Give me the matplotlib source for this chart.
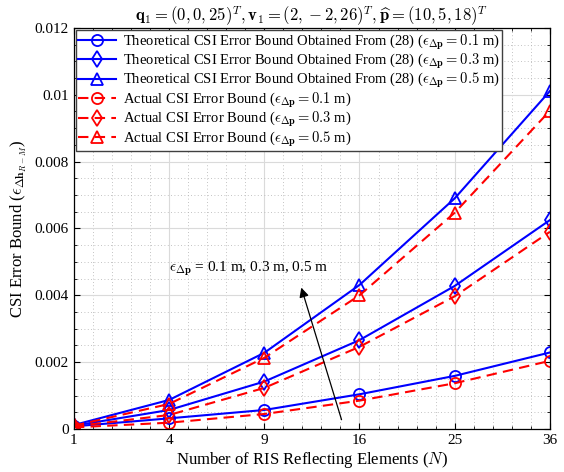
import numpy as np
import matplotlib
matplotlib.use("Agg")
import matplotlib.pyplot as plt
from matplotlib.ticker import MultipleLocator, FuncFormatter

plt.rcParams['font.family'] = ['Liberation Serif', 'DejaVu Serif']
plt.rcParams['mathtext.fontset'] = 'cm'

# RIS element counts (x axis, equally spaced)
n_elements = [1, 4, 9, 16, 25, 36]

# theoretical bound from (28)
theory_01 = [0.00008, 0.00032, 0.00057, 0.00104, 0.00159, 0.00229]
theory_03 = [0.00010, 0.00057, 0.00142, 0.00266, 0.00428, 0.00625]
theory_05 = [0.00012, 0.00087, 0.00228, 0.00431, 0.00690, 0.01011]

# actual bound
actual_01 = [0.00005, 0.00019, 0.00045, 0.00085, 0.00137, 0.00204]
actual_03 = [0.00008, 0.00042, 0.00123, 0.00246, 0.00397, 0.00590]
actual_05 = [0.00010, 0.00075, 0.00213, 0.00400, 0.00647, 0.00952]

eps_labels = ['0.1', '0.3', '0.5']
markers = ['o', 'd', '^']

fig = plt.figure(figsize=(5.64, 4.72), dpi=100)
ax = fig.add_axes([0.131, 0.091, 0.844, 0.85])

x = np.arange(len(n_elements))

for vals, m, e in zip([theory_01, theory_03, theory_05], markers, eps_labels):
    ax.plot(x, vals, color='blue', linestyle='-', linewidth=1.5, marker=m,
            markersize=8, fillstyle='none', markeredgewidth=1.3,
            label=r'Theoretical CSI Error Bound Obtained From (28) ($\epsilon_{\Delta\mathbf{p}}=%s$ m)' % e)
for vals, m, e in zip([actual_01, actual_03, actual_05], markers, eps_labels):
    ax.plot(x, vals, color='red', linestyle=(0, (5, 3)), linewidth=1.5, marker=m,
            markersize=8, fillstyle='none', markeredgewidth=1.3,
            label=r'Actual CSI Error Bound ($\epsilon_{\Delta\mathbf{p}}=%s$ m)' % e)

ax.set_xlim(0, len(n_elements) - 1)
ax.set_ylim(0, 0.012)
ax.set_xticks(x)
ax.set_xticklabels([str(n) for n in n_elements])
ax.xaxis.set_minor_locator(MultipleLocator(0.2))
ax.yaxis.set_major_locator(MultipleLocator(0.002))
ax.yaxis.set_minor_locator(MultipleLocator(0.0005))
ax.yaxis.set_major_formatter(FuncFormatter(lambda v, p: '%g' % round(v, 6)))

ax.tick_params(which='both', direction='in', top=True, right=True, labelsize=11)
ax.tick_params(which='major', length=4)
ax.tick_params(which='minor', length=2.5)
ax.grid(which='major', color='#dadada', linewidth=0.8, linestyle='-')
ax.grid(which='minor', color='#b0b0b0', linewidth=0.6, linestyle=(0, (1, 3)))
ax.set_axisbelow(True)
for s in ax.spines.values():
    s.set_linewidth(0.9)

ax.set_xlabel(r'Number of RIS Reflecting Elements ($N$)', fontsize=12, labelpad=2)
ax.set_ylabel(r'CSI Error Bound ($\epsilon_{\Delta\mathbf{h}_{R-M}}$)', fontsize=12)
ax.set_title(r'$\mathbf{q}_1=(0,0,25)^T,\mathbf{v}_1=(2,-2,26)^T,\widehat{\mathbf{p}}=(10,5,18)^T$',
             fontsize=12, pad=4)

ax.legend(loc='upper left', fontsize=10.5, frameon=True, fancybox=False,
          edgecolor='#404040', framealpha=1, borderpad=0.15, labelspacing=0.0,
          handlelength=2.6, handletextpad=0.5, borderaxespad=0.15)

ax.annotate('', xy=(2.38, 0.00431), xytext=(2.82, 0.0002),
            arrowprops=dict(arrowstyle='-|>', color='black', linewidth=0.9,
                            mutation_scale=14))
ax.text(1.0, 0.00479, r'$\epsilon_{\Delta\mathbf{p}}$ = 0.1 m, 0.3 m, 0.5 m',
        fontsize=11, va='center', ha='left')

fig.savefig('out.png', dpi=100)
